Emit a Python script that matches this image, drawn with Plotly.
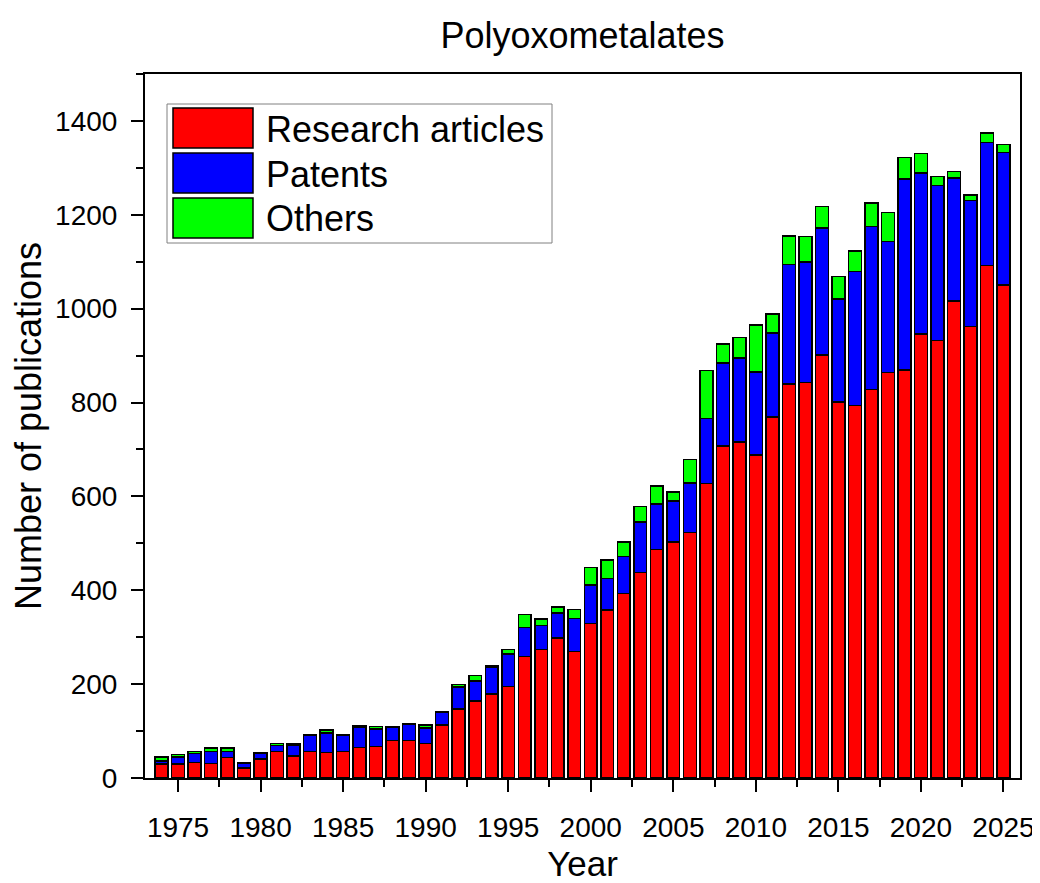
import plotly.graph_objects as go

years = list(range(1974, 2026))
research = [30, 30, 33, 31, 44, 21, 40, 56, 47, 56, 54, 56, 65, 67, 80, 80, 74,
            113, 147, 164, 179, 195, 259, 274, 298, 270, 329, 358, 393, 438, 487, 503,
            523, 627, 707, 716, 688, 769, 840, 843, 901, 801, 794, 828, 864, 869, 946,
            932, 1016, 962, 1092, 1050]
patents = [6, 15, 19, 26, 13, 10, 13, 13, 23, 35, 42, 36, 44, 37, 28, 35, 33,
           27, 47, 43, 58, 69, 62, 51, 54, 70, 82, 67, 79, 107, 97, 87,
           106, 139, 177, 179, 177, 179, 254, 256, 271, 220, 285, 347, 279, 407, 343,
           330, 262, 268, 262, 283]
others = [9, 5, 5, 7, 7, 2, 1, 4, 2, 1, 6, 1, 2, 6, 1, 1, 6,
          2, 5, 11, 3, 10, 27, 14, 12, 19, 37, 40, 31, 34, 38, 19,
          50, 102, 41, 44, 100, 41, 61, 55, 46, 48, 44, 50, 62, 46, 42,
          20, 14, 12, 20, 17]
series_names = ["Research articles", "Patents", "Others"]
series_colors = ["#FF0000", "#0000FF", "#00FF00"]
y_ticks = [0, 200, 400, 600, 800, 1000, 1200, 1400]
x_ticks = [1975, 1980, 1985, 1990, 1995, 2000, 2005, 2010, 2015, 2020, 2025]

FONT = "Liberation Sans, Arial, sans-serif"
OFF = 8  # page body margin offset
W, H = 1040 - OFF, 883 - OFF
ML, MT = 145 - OFF, 74 - OFF
MR = W - (1020 - OFF)
MB = H - (778 - OFF)
PW, PH = W - ML - MR, H - MT - MB

fig = go.Figure()
for name, vals, col in zip(series_names, [research, patents, others], series_colors):
    fig.add_trace(go.Bar(x=years, y=vals, name=name, width=0.78,
                         marker=dict(color=col, line=dict(color="black", width=1.5)),
                         showlegend=False))

axis_common = dict(showline=True, linecolor="black", linewidth=2, mirror=True,
                   ticks="outside", ticklen=12, tickwidth=2, tickcolor="black",
                   showgrid=False, zeroline=False, automargin=False,
                   tickfont=dict(family=FONT, size=28, color="black"))

fig.update_layout(
    width=W, height=H, barmode="stack",
    margin=dict(l=ML, r=MR, t=MT, b=MB, autoexpand=False),
    plot_bgcolor="white", paper_bgcolor="white",
    title=dict(text="Polyoxometalates", x=(ML + PW / 2) / W, xanchor="center",
               y=1 - (35 - OFF) / H, yanchor="middle", yref="container", automargin=False,
               font=dict(family=FONT, size=36, color="black")),
    xaxis=dict(range=[1973, 2026], tickvals=x_ticks, ticklabelstandoff=11,
               minor=dict(dtick=2.5, tick0=1975, ticks="outside", ticklen=7, tickwidth=2, tickcolor="black"),
               title=dict(text="Year", font=dict(family=FONT, size=35, color="black"), standoff=13),
               **axis_common),
    yaxis=dict(range=[0, 1500], tickvals=y_ticks, ticklabelstandoff=8,
               minor=dict(dtick=100, ticks="outside", ticklen=7, tickwidth=2, tickcolor="black"),
               title=dict(text="Number of publications", font=dict(family=FONT, size=36, color="black"), standoff=14),
               **axis_common),
)

# custom legend (paper coordinates converted from reference pixel layout)
def px(x):
    return (x - OFF - ML) / PW

def py(y):
    return (H - MB - (y - OFF)) / PH

fig.add_shape(type="rect", xref="paper", yref="paper",
              x0=px(167), x1=px(552), y0=py(104), y1=py(243),
              line=dict(color="#808080", width=1), fillcolor="white", layer="above")
row_tops = [108, 153, 198]
for name, col, top in zip(series_names, series_colors, row_tops):
    fig.add_shape(type="rect", xref="paper", yref="paper",
                  x0=px(173), x1=px(253), y0=py(top), y1=py(top + 40),
                  line=dict(color="black", width=1.5), fillcolor=col, layer="above")
    fig.add_annotation(xref="paper", yref="paper", x=px(264), y=py(top + 21),
                       xanchor="left", yanchor="middle", showarrow=False, text=name,
                       font=dict(family=FONT, size=36, color="black"))

fig.write_html("out.html")
